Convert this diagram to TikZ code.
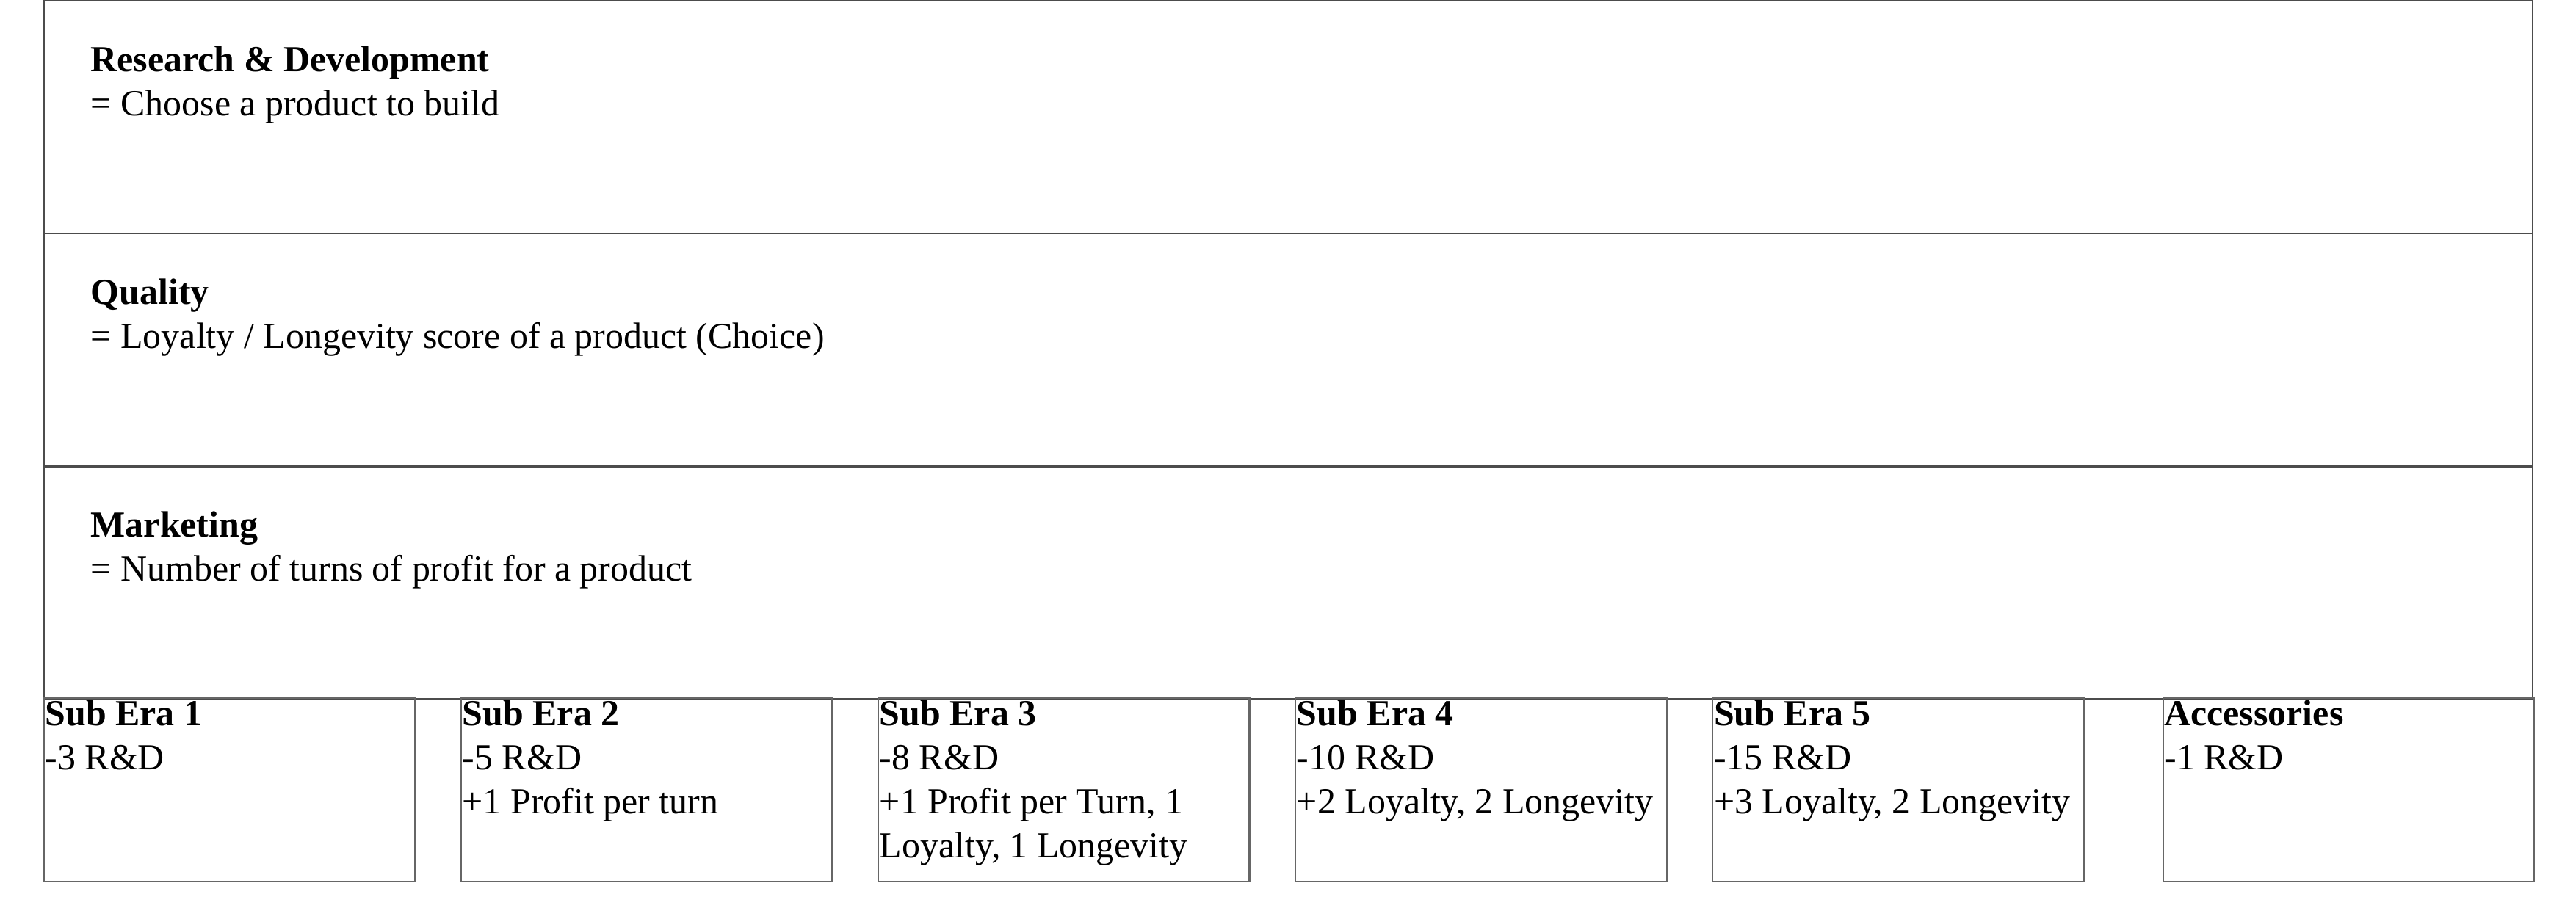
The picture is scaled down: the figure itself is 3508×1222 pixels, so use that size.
\documentclass[tikz,border=0pt]{standalone}
\usepackage{fontspec}
\setmainfont{Liberation Serif}
\usetikzlibrary{positioning}
\tikzset{
  panel/.style={draw=black!70, line width=0.7pt, minimum width=33.87cm, minimum height=3.17cm, inner sep=0pt, outer sep=0pt},
  erabox/.style={draw=black!60, line width=0.6pt, minimum width=5.05cm, minimum height=2.5cm, inner sep=0pt, outer sep=0pt},
  txt/.style={inner sep=0pt, align=left, font=\fontsize{14.2}{17.1}\selectfont},
}

\begin{document}
\begin{tikzpicture}[x=0.01cm, y=-0.01cm, node distance=0.6275cm]
\useasboundingbox (0,0) rectangle (3508,1222);

% the three phases
\node[panel, anchor=north west] (rd) at (60,1) {};
\node[panel, below=0pt of rd] (quality) {};
\node[panel, below=0pt of quality] (marketing) {};

\node[txt, below right=0.61cm and 0.63cm of rd.north west] (rdtext)
  {\textbf{Research \& Development}\\= Choose a product to build};
\node[txt, below right=0.61cm and 0.63cm of quality.north west] (qualitytext)
  {\textbf{Quality}\\= Loyalty / Longevity score of a product (Choice)};
\node[txt, below right=0.61cm and 0.63cm of marketing.north west] (marketingtext)
  {\textbf{Marketing}\\= Number of turns of profit for a product};

% sub eras
\node[erabox, anchor=north west] (era1) at (60,951) {};
\node[erabox, right=of era1] (era2) {};
\node[erabox, right=of era2] (era3) {};
\node[erabox, right=of era3] (era4) {};
\node[erabox, right=of era4] (era5) {};
\node[erabox, right=1.08cm of era5] (acc) {};

\node[txt, below right=0.02cm and 0.01cm of era1.north west] (era1text)
  {\textbf{Sub Era 1}\\-3 R\&D};
\node[txt, below right=0.02cm and 0.01cm of era2.north west] (era2text)
  {\textbf{Sub Era 2}\\-5 R\&D\\+1 Profit per turn};
\node[txt, below right=0.02cm and 0.01cm of era3.north west] (era3text)
  {\textbf{Sub Era 3}\\-8 R\&D\\+1 Profit per Turn, 1\\Loyalty, 1 Longevity};
\node[txt, below right=0.02cm and 0.01cm of era4.north west] (era4text)
  {\textbf{Sub Era 4}\\-10 R\&D\\+2 Loyalty, 2 Longevity};
\node[txt, below right=0.02cm and 0.01cm of era5.north west] (era5text)
  {\textbf{Sub Era 5}\\-15 R\&D\\+3 Loyalty, 2 Longevity};
\node[txt, below right=0.02cm and 0.01cm of acc.north west] (acctext)
  {\textbf{Accessories}\\-1 R\&D};
\end{tikzpicture}
\end{document}
